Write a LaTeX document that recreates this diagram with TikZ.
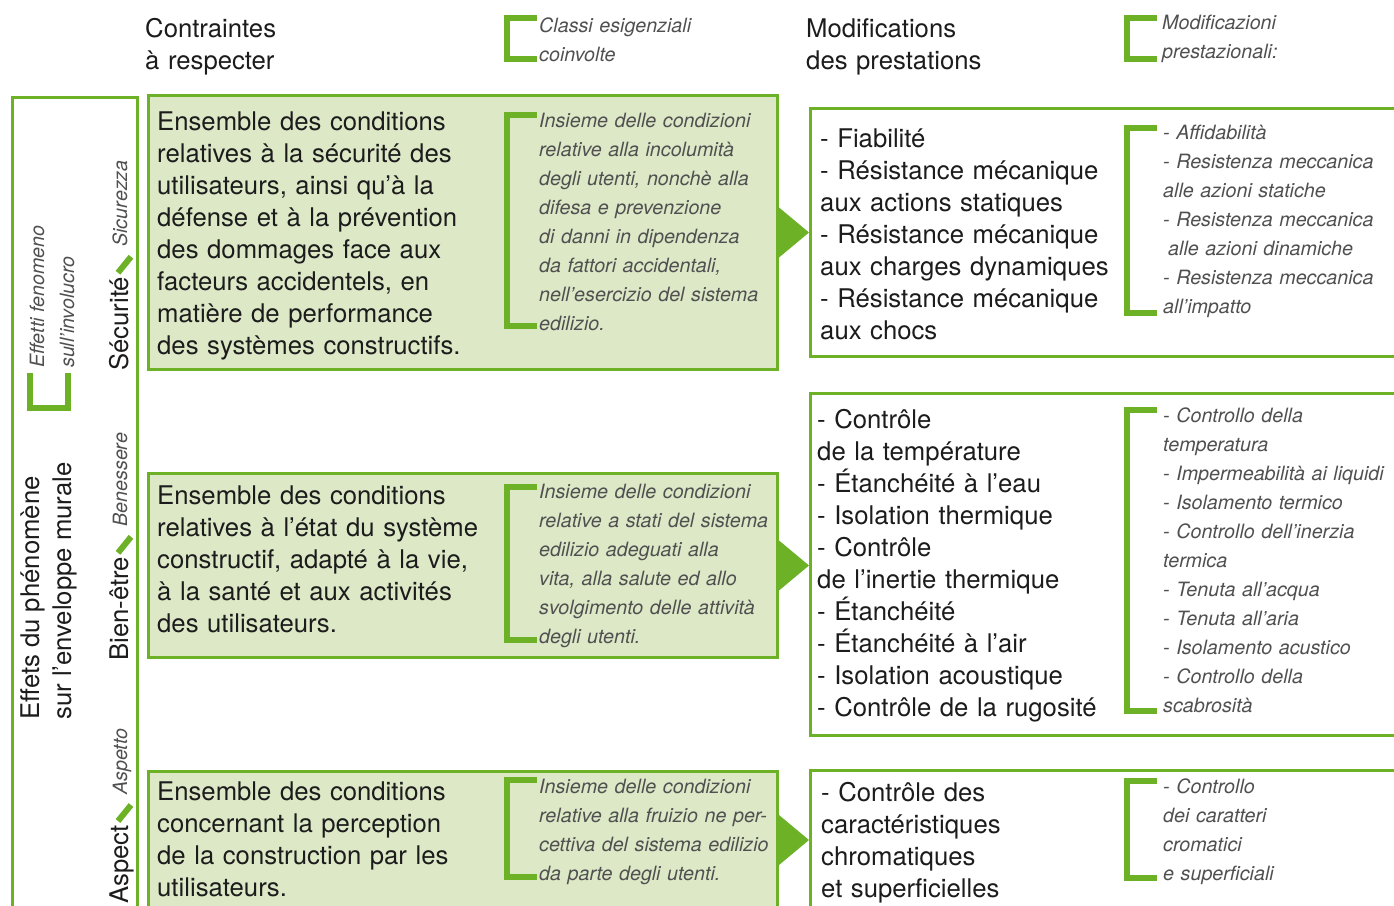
\documentclass[tikz,border=0pt]{standalone}
\usepackage{fontspec}
\setmainfont{TeX Gyre Heros}
\definecolor{lg}{RGB}{108,177,38}
\definecolor{lfill}{RGB}{221,232,199}
\definecolor{itgray}{RGB}{80,80,80}
\definecolor{txt}{RGB}{28,28,28}
\begin{document}
\begin{tikzpicture}[x=1pt,y=-1pt,
  gbox/.style={draw=lg,fill=lfill,line width=3pt,inner sep=0pt,anchor=north west},
  wbox/.style={draw=lg,fill=white,line width=3pt,inner sep=0pt,anchor=north west},
  obox/.style={draw=lg,line width=3pt,inner sep=0pt,anchor=north west},
  brk/.style={draw=lg,line width=6pt},
  slashmark/.style={draw=lg,line width=6pt},
  tri/.style={fill=lg},
  big/.style={font=\fontsize{25.7}{32}\selectfont, text=txt, inner sep=0pt, anchor=base west, align=left, text width=420pt},
  ita/.style={font=\fontsize{19.7}{29}\selectfont\itshape, text=itgray, inner sep=0pt, anchor=base west, align=left, text width=260pt},
  vbig/.style={font=\fontsize{25.7}{32}\selectfont, text=txt, inner sep=0pt, anchor=base west, rotate=90},
  vita/.style={font=\fontsize{19.7}{29}\selectfont\itshape, text=itgray, inner sep=0pt, anchor=base west, rotate=90}]
\useasboundingbox (0,0) rectangle (1394,905);
\clip (0,0) rectangle (1394,905);

% headers
\node[big] (h1) at (145,37) {Contraintes\\à respecter};
\node[ita] (h2) at (539,32) {Classi esigenziali\\coinvolte};
\draw[brk] (537,18) -- (507,18) -- (507,59) -- (537,59);
\node[big] (h3) at (806,37) {Modifications\\des prestations};
\node[ita] (h4) at (1162,29) {Modificazioni\\prestazionali:};
\draw[brk] (1157,18) -- (1127,18) -- (1127,59) -- (1157,59);

% left outer box
\node[obox, minimum width=125pt, minimum height=830pt] (L) at (11,96) {};
\node[vita] (e1) at (44,368) {Effetti fenomeno};
\node[vita] (e2) at (74,368) {sull’involucro};
\draw[brk] (30,373) -- (30,408) -- (68,408) -- (68,373);
\node[vbig] (f1) at (39,720) {Effets du phénomène};
\node[vbig] (f2) at (71,720) {sur l’enveloppe murale};

% category labels
\node[vbig] (s1) at (128,371) {Sécurité};
\draw[slashmark] ([xshift=-10pt,yshift=4pt]s1.base east) -- ([xshift=3pt,yshift=20pt]s1.base east);
\node[vita] (s2) at ([xshift=-1pt,yshift=30pt]s1.base east) {Sicurezza};
\node[vbig] (b1) at (128,661) {Bien-être};
\draw[slashmark] ([xshift=-10pt,yshift=4pt]b1.base east) -- ([xshift=3pt,yshift=20pt]b1.base east);
\node[vita] (b2) at ([xshift=-1pt,yshift=30pt]b1.base east) {Benessere};
\node[vbig] (a1) at (128,904) {Aspect};
\draw[slashmark] ([xshift=-10pt,yshift=4pt]a1.base east) -- ([xshift=3pt,yshift=20pt]a1.base east);
\node[vita] (a2) at ([xshift=-1pt,yshift=30pt]a1.base east) {Aspetto};

% green boxes
\node[gbox, minimum width=629pt, minimum height=274pt] (c1) at (147,94) {};
\node[gbox, minimum width=629pt, minimum height=184pt] (c2) at (147,472) {};
\node[gbox, minimum width=629pt, minimum height=137pt] (c3) at (147,770) {};

% right boxes
\node[wbox, minimum width=600pt, minimum height=248pt] (r1) at (809,107) {};
\node[wbox, minimum width=600pt, minimum height=342pt] (r2) at (809,392) {};
\node[wbox, minimum width=600pt, minimum height=138pt] (r3) at (809,769) {};

% arrows
\fill[tri] ([yshift=25pt]c1.east) -- (r1.west |- c1.east) -- ([yshift=-25pt]c1.east) -- cycle;
\fill[tri] ([yshift=25pt]c2.east) -- (r2.west |- c2.east) -- ([yshift=-25pt]c2.east) -- cycle;
\fill[tri] ([yshift=25pt]c3.east) -- (r3.west |- c3.east) -- ([yshift=-25pt]c3.east) -- cycle;

% box 1 texts
\node[big] (t1) at (157,130) {Ensemble des conditions\\relatives à la sécurité des\\utilisateurs, ainsi qu’à la\\défense et à la prévention\\des dommages face aux\\facteurs accidentels, en\\matière de performance\\des systèmes constructifs.};
\draw[brk] (537,115) -- (507,115) -- (507,326) -- (537,326);
\node[ita] (i1) at (539,127) {Insieme delle condizioni\\relative alla incolumità\\degli utenti, nonchè alla\\difesa e prevenzione\\di danni in dipendenza\\da fattori accidentali,\\nell’esercizio del sistema\\edilizio.};

% box 2 texts
\node[big] (t2) at (157,504) {Ensemble des conditions\\relatives à l’état du système\\constructif, adapté à la vie,\\à la santé et aux activités\\des utilisateurs.};
\draw[brk] (537,487) -- (507,487) -- (507,640) -- (537,640);
\node[ita] (i2) at (539,498) {Insieme delle condizioni\\relative a stati del sistema\\edilizio adeguati alla\\vita, alla salute ed allo\\svolgimento delle attività\\degli utenti.};

% box 3 texts
\node[big] (t3) at (157,800) {Ensemble des conditions\\concernant la perception\\de la construction par les\\utilisateurs.};
\draw[brk] (537,780) -- (507,780) -- (507,877) -- (537,877);
\node[ita] (i3) at (539,793) {Insieme delle condizioni\\relative alla fruizio ne per-\\cettiva del sistema edilizio\\da parte degli utenti.};

% right box texts
\node[big] (u1) at (820,147) {- Fiabilité\\- Résistance mécanique\\aux actions statiques\\- Résistance mécanique\\aux charges dynamiques\\- Résistance mécanique\\aux chocs};
\draw[brk] (1157,128) -- (1127,128) -- (1127,313) -- (1157,313);
\node[ita] (j1) at (1163,139) {- Affidabilità\\- Resistenza meccanica\\alle azioni statiche\\- Resistenza meccanica\\\hspace*{5pt}alle azioni dinamiche\\- Resistenza meccanica\\all’impatto};

\node[big] (u2) at (817,428) {- Contrôle\\de la température\\- Étanchéité à l’eau\\- Isolation thermique\\- Contrôle\\de l’inertie thermique\\- Étanchéité\\- Étanchéité à l’air\\- Isolation acoustique\\- Contrôle de la rugosité};
\draw[brk] (1157,410) -- (1127,410) -- (1127,711) -- (1157,711);
\node[ita] (j2) at (1163,422) {- Controllo della\\temperatura\\- Impermeabilità ai liquidi\\- Isolamento termico\\- Controllo dell’inerzia\\termica\\- Tenuta all’acqua\\- Tenuta all’aria\\- Isolamento acustico\\- Controllo della\\scabrosità};

\node[big] (u3) at (821,801) {- Contrôle des\\caractéristiques\\chromatiques\\et superficielles};
\draw[brk] (1157,781) -- (1127,781) -- (1127,878) -- (1157,878);
\node[ita] (j3) at (1163,793) {- Controllo\\dei caratteri\\cromatici\\e superficiali};
\end{tikzpicture}
\end{document}
